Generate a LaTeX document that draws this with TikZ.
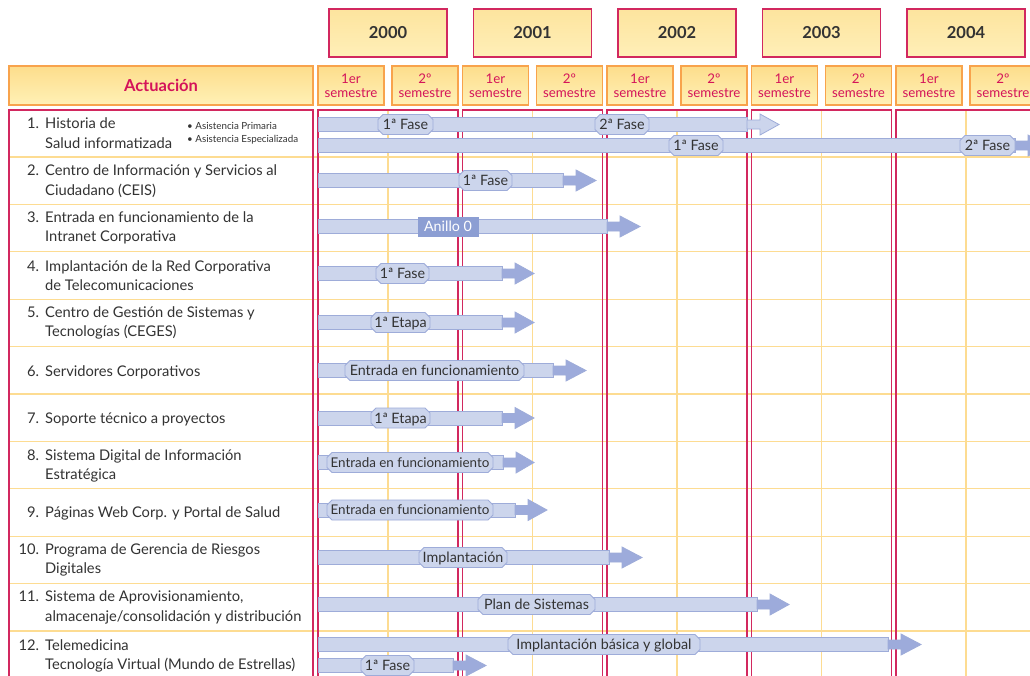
\documentclass[tikz,border=0pt]{standalone}
\usepackage{fontspec}
\setmainfont{Lato}
\usetikzlibrary{shapes.misc}

\definecolor{crim}{HTML}{D2285F}
\definecolor{crimtext}{HTML}{D4145A}
\definecolor{orangeline}{HTML}{F8A34C}
\definecolor{gridyel}{HTML}{FDDC92}
\definecolor{hdrtop}{HTML}{FDDD8C}
\definecolor{hdrbot}{HTML}{FFF1B6}
\definecolor{yeartop}{HTML}{FDE49E}
\definecolor{yearbot}{HTML}{FFEFB8}
\definecolor{barfill}{HTML}{CCD5EC}
\definecolor{barline}{HTML}{9EACD9}
\definecolor{headfill}{HTML}{9DABDB}
\definecolor{tagfill}{HTML}{8C9ED3}
\definecolor{txt}{HTML}{333333}

% Gantt bar: #1 centre y, #2 start x, #3 end of bar, #4 tip x, #5 head fill
\newcommand{\ganttarrow}[5]{%
  \filldraw[fill=barfill,draw=barline,line width=0.8pt]
    (#2,{#1-7}) rectangle (#3,{#1+7});
  \filldraw[fill=#5,draw=barline,line width=0.8pt]
    (#3,{#1-4.5}) -- ({#3+13},{#1-4.5}) -- ({#3+13},{#1-10.5}) -- (#4,#1)
    -- ({#3+13},{#1+10.5}) -- ({#3+13},{#1+4.5}) -- (#3,{#1+4.5}) -- cycle;
}

\tikzset{
  yearbox/.style={draw=crim,line width=1.2pt,top color=yeartop,bottom color=yearbot,
    minimum width=118pt,minimum height=48pt,inner sep=0pt,
    font=\fontsize{16.5}{16.5}\selectfont\bfseries,text=txt},
  semibox/.style={draw=orangeline,line width=1.2pt,top color=hdrtop,bottom color=hdrbot,
    minimum width=66pt,minimum height=39pt,inner sep=0pt,align=center,
    font=\fontsize{13.3}{14}\selectfont,text=crimtext},
  hdrbox/.style={draw=orangeline,line width=1.2pt,top color=hdrtop,bottom color=hdrbot,
    minimum width=304pt,minimum height=39pt,inner sep=0pt,
    font=\fontsize{16.5}{16.5}\selectfont\bfseries,text=crimtext},
  frame/.style={draw=crim,line width=1.3pt},
  gridline/.style={draw=gridyel,line width=1.2pt},
  rowtext/.style={anchor=west,align=left,inner sep=0pt,text=txt,
    font=\fontsize{14.7}{19.5}\selectfont},
  bullet/.style={anchor=west,inner sep=0pt,text=txt,font=\fontsize{9.8}{9.8}\selectfont},
  lab/.style={chamfered rectangle,chamfered rectangle xsep=2.5pt,
    chamfered rectangle ysep=2.5pt,draw=barline,fill=barfill,line width=0.8pt,
    minimum height=20pt,inner sep=0pt,text=txt,
    font=\fontsize{14.3}{14.3}\selectfont,text height=10.2pt,text depth=0pt},
  narrowlab/.style={lab,font=\fontsize{13.4}{13.4}\selectfont,text height=9.6pt},
  tag/.style={rectangle,draw=tagfill,fill=tagfill,minimum height=19pt,inner sep=0pt,
    text=white,font=\fontsize{14.3}{14.3}\selectfont,text height=10.2pt,text depth=0pt}
}

\begin{document}
\begin{tikzpicture}[x=1pt,y=-1pt]
\useasboundingbox (0,0) rectangle (1030,675);
\clip (0,0) rectangle (1030,675);
\fill[white] (0,0) rectangle (1030,675);

% year headers
\foreach \yr [count=\i from 0] in {2000,2001,2002,2003,2004}{
  \node[yearbox] (year\yr) at ({388+144.5*\i},33) {\yr};
  \node[semibox] (s1-\yr) at ({351+144.5*\i},85.5) {1er\\semestre};
  \node[semibox] (s2-\yr) at ({425+144.5*\i},85.5) {2º\\semestre};
}
\node[hdrbox] (actuacion) at (161,85.5) {Actuación};

% grid
\foreach \yy in {157,204.4,251.8,299.2,346.6,394,441.4,488.8,536.2,583.6,631}{
  \draw[gridline] (9,\yy) -- (1030,\yy);
}
\foreach \i in {0,...,4}{
  \draw[gridline] ({388+144.5*\i},110) -- ({388+144.5*\i},680);
}

% frames
\draw[frame] (9,680) -- (9,110) -- (313,110) -- (313,680);
\foreach \i in {0,...,4}{
  \draw[frame] ({318+144.5*\i},680) -- ({318+144.5*\i},110) -- ({458+144.5*\i},110) -- ({458+144.5*\i},680);
}

% left column
\node[rowtext] (r1) at (45,133) {\llap{1.\hspace{6pt}}Historia de\\Salud informatizada};
\node[bullet] (b1) at (187,126) {• Asistencia Primaria};
\node[bullet] (b2) at (187,140) {• Asistencia Especializada};
\node[rowtext] (r2) at (45,181) {\llap{2.\hspace{6pt}}Centro de Información y Servicios al\\Ciudadano (CEIS)};
\node[rowtext] (r3) at (45,228) {\llap{3.\hspace{6pt}}Entrada en funcionamiento de la\\Intranet Corporativa};
\node[rowtext] (r4) at (45,275.5) {\llap{4.\hspace{6pt}}Implantación de la Red Corporativa\\de Telecomunicaciones};
\node[rowtext] (r5) at (45,323) {\llap{5.\hspace{6pt}}Centro de Gestión de Sistemas y\\Tecnologías (CEGES)};
\node[rowtext] (r6) at (45,372) {\llap{6.\hspace{6pt}}Servidores Corporativos};
\node[rowtext] (r7) at (45,419) {\llap{7.\hspace{6pt}}Soporte técnico a proyectos};
\node[rowtext] (r8) at (45,466) {\llap{8.\hspace{6pt}}Sistema Digital de Información\\Estratégica};
\node[rowtext] (r9) at (45,513) {\llap{9.\hspace{6pt}}Páginas Web Corp. y Portal de Salud};
\node[rowtext] (r10) at (45,560) {\llap{10.\hspace{6pt}}Programa de Gerencia de Riesgos\\Digitales};
\node[rowtext] (r11) at (45,607.5) {\llap{11.\hspace{6pt}}Sistema de Aprovisionamiento,\\almacenaje/consolidación y distribución};
\node[rowtext] (r12) at (45,656) {\llap{12.\hspace{6pt}}Telemedicina\\Tecnología Virtual (Mundo de Estrellas)};

% bars
\ganttarrow{124.5}{318}{747}{779}{barfill}
\ganttarrow{145.5}{318}{1015}{1047}{headfill}
\ganttarrow{180.5}{318}{563}{596}{headfill}
\ganttarrow{226.5}{318}{607}{640}{headfill}
\ganttarrow{273.5}{318}{502}{534}{headfill}
\ganttarrow{322.5}{318}{502}{534}{headfill}
\ganttarrow{370.5}{318}{553}{586}{headfill}
\ganttarrow{418}{318}{502}{534}{headfill}
\ganttarrow{462.5}{318}{503}{534}{headfill}
\ganttarrow{510}{318}{515}{547}{headfill}
\ganttarrow{557.5}{318}{609}{642}{headfill}
\ganttarrow{604.5}{318}{757}{789}{headfill}
\ganttarrow{644.5}{318}{888}{921}{headfill}
\ganttarrow{665.5}{318}{453}{486}{headfill}

% bar labels
\node[lab,minimum width=55pt] (l1a) at (405.5,124.5) {1ª Fase};
\node[lab,minimum width=54pt] (l1b) at (622,124.5) {2ª Fase};
\node[lab,minimum width=54pt] (l1c) at (696,145.5) {1ª Fase};
\node[lab,minimum width=55pt] (l1d) at (987.5,145.5) {2ª Fase};
\node[lab,minimum width=53pt] (l2) at (485.5,180.5) {1ª Fase};
\node[tag,minimum width=60pt] (l3) at (448,226.5) {Anillo 0};
\node[lab,minimum width=53pt] (l4) at (402.5,273.5) {1ª Fase};
\node[lab,minimum width=59pt] (l5) at (400.5,322.5) {1ª Etapa};
\node[lab,minimum width=179pt] (l6) at (434.5,370.5) {Entrada en funcionamiento};
\node[lab,minimum width=59pt] (l7) at (400.5,418) {1ª Etapa};
\node[narrowlab,minimum width=166pt] (l8) at (410,462.5) {Entrada en funcionamiento};
\node[narrowlab,minimum width=166pt] (l9) at (410,510) {Entrada en funcionamiento};
\node[lab,minimum width=88pt] (l10) at (463,557.5) {Implantación};
\node[lab,minimum width=117pt] (l11) at (536.5,604.5) {Plan de Sistemas};
\node[lab,minimum width=192pt] (l12a) at (604,644.5) {Implantación básica y global};
\node[lab,minimum width=53pt] (l12b) at (387.5,665.5) {1ª Fase};
\end{tikzpicture}
\end{document}
